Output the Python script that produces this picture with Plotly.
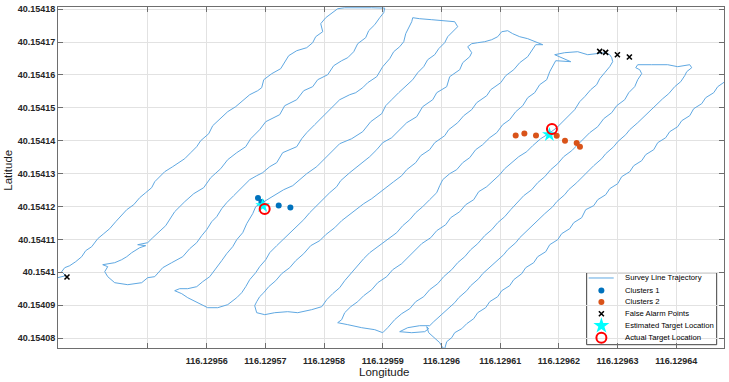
import math
import plotly.graph_objects as go

# ---------------- data (micro-degree offsets from the base coordinates) ----------------
LON_BASE = 116.1295
LAT_BASE = 40.154
UDEG = 1e-6

TRAJECTORY_UDEG = [
    # line 1 (up)
    (33.26,97.75),(34.62,98.36),(35.47,98.67),(35.98,98.97),(35.30,100.19),(35.81,101.40),(36.67,102.01),
    (37.69,103.23),(38.71,104.74),(39.39,106.57),(40.41,107.78),(41.44,110.22),(42.46,111.74),(43.48,113.26),
    (44.50,115.38),(45.35,116.90),(46.38,119.03),(47.57,120.55),(48.59,122.68),(49.61,124.20),(50.63,125.72),
    (51.15,127.54),(52.00,129.06),(52.85,130.58),(54.21,132.10),(55.58,133.62),(56.26,134.53),(57.28,136.36),
    (58.30,138.18),(58.98,140.00),(60.35,142.13),(61.03,144.56),(62.22,146.69),(63.58,148.82),(64.94,150.34),
    (66.14,152.16),(67.33,153.98),(68.69,155.20),(69.37,156.11),(69.72,158.54),(71.08,160.37),(72.61,161.89),
    (73.29,164.02),(73.97,165.84),(75.34,167.36),(77.04,168.27),(78.06,169.79),(78.57,171.61),(79.77,173.13),
    (79.43,175.57),(80.28,177.39),(81.47,178.91),(82.32,180.12),(83.51,180.40),(85.73,180.50),(88.11,180.40),
    (90.33,180.30),
    # line 2 (down)
    (90.16,178.91),(89.48,177.39),(88.63,175.26),(87.60,173.44),(87.09,171.31),(85.73,169.49),(85.05,167.05),
    (84.03,165.23),(83.00,164.32),(81.64,162.80),(80.62,160.06),(78.91,158.54),(78.06,156.42),(76.53,155.20),
    (75.34,152.46),(73.29,150.64),(72.44,147.91),(70.06,145.78),(69.03,143.35),(67.50,140.61),(66.65,138.18),
    (65.12,136.36),(63.58,134.23),(62.39,131.49),(60.69,128.76),(59.49,125.72),(57.79,123.89),(56.26,121.46),
    (54.55,118.42),(53.02,114.17),(52.00,112.34),(50.81,110.52),(49.95,109.00),(48.25,108.39),(49.61,108.09),
    (48.59,107.48),(47.23,105.96),(46.38,104.74),(45.52,103.83),(44.33,102.92),(42.29,102.31),
    (43.14,101.71),(42.63,100.19),(43.14,98.67),(44.33,96.84),(46.55,96.23),(48.93,96.84),(49.95,98.36),(51.15,98.67),
    # line 3 (up)
    (52.51,101.40),(54.04,102.92),(55.92,104.74),(57.11,107.18),(58.30,109.00),(59.15,111.13),(60.00,112.95),
    (60.86,115.38),(61.71,116.90),(62.56,119.33),(63.41,121.16),(64.60,123.29),(65.63,125.11),(66.31,126.63),
    (67.33,128.15),(68.52,129.36),(69.54,130.28),(70.74,132.10),(71.93,133.32),(72.95,136.36),(74.14,137.27),
    (75.34,138.18),(76.19,140.61),(77.04,142.43),(78.40,144.87),(79.77,147.30),(81.30,150.03),(82.66,152.46),
    (84.37,153.98),(85.39,154.59),(86.58,156.11),(87.43,157.63),(88.97,159.46),(89.99,162.50),(91.18,164.93),
    (91.86,167.05),(92.88,168.57),(93.57,170.09),(93.91,172.53),(94.42,174.35),(94.93,176.17),(95.10,177.39),
    (96.29,177.08),(98.34,176.78),(100.55,176.48),(102.25,176.17),(102.76,174.65),
    # line 4 (down)
    (101.91,173.13),(101.06,171.61),(100.55,169.79),(99.53,167.97),(98.85,166.14),(97.65,164.62),(96.97,162.50),
    (95.95,160.67),(95.10,158.54),(93.74,156.42),(92.71,154.59),(91.52,152.46),(90.50,150.64),(89.82,148.21),
    (87.94,145.78),(86.58,142.74),(84.71,140.61),(82.66,139.09),(81.13,136.36),(79.94,134.23),(78.74,132.10),
    (77.04,129.97),(75.85,128.15),(74.66,126.33),(73.12,125.11),(71.76,123.59),(70.40,122.07),(69.37,121.16),
    (68.35,119.94),(67.84,117.81),(66.82,114.78),(66.14,112.04),(65.12,109.91),(64.43,107.78),(63.41,105.66),
    (62.56,103.53),(61.54,101.10),(60.52,98.67),(59.32,97.15),(58.30,95.63),(56.77,95.02),(55.40,95.02),(54.55,94.41),
    (55.75,93.50),(56.77,92.28),(58.47,90.76),(60.17,89.24),(61.88,89.24),(63.58,90.16),(65.12,92.28),(65.97,93.80),
    # line 5 (up)
    (66.65,95.63),(67.33,97.75),(68.35,99.88),(69.03,101.71),(70.06,103.83),(70.74,105.96),(71.93,108.09),
    (72.95,109.91),(74.14,112.04),(75.34,113.86),(76.53,115.99),(77.55,118.12),(78.74,120.25),(79.77,122.07),
    (80.96,124.20),(82.15,126.02),(82.83,127.85),(84.37,130.28),(85.39,131.80),(86.58,133.32),(87.77,135.14),
    (88.97,137.27),(89.99,139.40),(91.52,140.91),(92.88,143.35),(94.08,145.47),(95.78,147.30),(96.80,150.34),
    (98.51,152.46),(99.19,154.59),(100.89,156.42),(101.40,159.46),(103.11,161.58),(103.62,163.71),(104.81,165.53),
    (105.15,166.75),(104.47,168.57),
    (105.15,169.49),(106.17,169.79),(107.36,170.09),(108.56,170.70),(109.58,171.61),(110.26,173.13),(111.28,173.44),
    (112.13,172.53),(113.33,171.61),(114.69,171.01),(115.88,170.09),(117.25,169.18),(116.05,169.18),
    # line 6 (down)
    (115.54,167.66),(114.69,165.53),(113.33,163.71),(112.31,161.58),(110.94,159.76),(110.09,157.63),(108.39,155.50),
    (107.71,153.68),(106.00,151.55),(105.15,149.43),(103.79,147.60),(102.76,145.47),(101.23,143.35),(100.55,141.52),
    (98.85,139.40),(97.99,137.27),(96.46,135.44),(95.61,133.32),(94.08,131.19),(93.22,129.36),(91.86,127.54),
    (90.50,125.72),(89.14,123.89),(88.11,122.37),(86.75,120.85),(85.39,119.03),(84.20,117.21),(83.00,115.69),
    (81.81,113.56),(80.28,111.43),(79.26,109.61),(77.72,108.09),(76.53,105.66),(75.17,103.53),(74.14,101.40),
    (72.78,99.58),(71.76,97.45),(70.57,95.63),(69.72,93.80),(69.03,92.59),
    (68.52,91.07),(68.18,89.85),(68.52,87.72),(69.89,87.12),(71.59,87.72),(73.80,88.03),(75.51,87.72),(77.89,88.64),(79.60,89.55),
    # line 7 (up)
    (80.45,91.67),(81.47,93.50),(82.66,95.32),(83.51,97.45),(84.54,99.58),(85.56,102.01),(86.75,104.14),
    (87.77,105.96),(88.97,107.48),(89.99,109.00),(91.18,110.52),(92.37,112.04),(93.40,114.17),(94.59,115.99),
    (95.61,118.12),(96.80,119.94),(97.99,122.07),(99.19,124.20),(99.70,126.33),(100.21,128.15),(101.40,129.97),
    (102.59,131.19),(103.62,133.32),(104.81,134.84),(105.83,137.27),(107.02,138.79),(108.22,140.91),(109.41,142.43),
    (110.43,144.87),(111.62,146.39),(112.65,148.82),(113.84,150.64),(114.69,153.07),(115.88,154.59),(116.73,157.02),
    (117.93,158.54),(118.44,160.98),(118.95,162.80),(119.46,164.32),(122.02,164.02),(120.31,165.23),(119.29,166.14),
    (120.99,166.75),(123.21,167.05),(124.91,166.14),(126.62,166.45),(127.81,166.75),(128.66,166.14),(129.00,165.23),
    # line 8 (down)
    (129.17,164.02),(128.66,162.50),(127.81,160.67),(126.96,158.85),(126.44,157.02),(125.42,155.50),(124.40,153.38),
    (123.55,151.86),(122.70,149.43),(121.85,147.91),(120.65,145.78),(119.63,143.95),(118.27,142.13),(116.90,140.61),
    (115.54,138.48),(114.52,136.66),(113.16,135.14),(111.96,133.32),(110.77,131.49),(109.92,129.67),(108.73,127.54),
    (107.71,126.02),(106.34,124.50),(105.49,122.07),(104.13,120.55),(103.11,118.42),(101.57,116.60),(100.72,114.47),
    (99.19,112.65),(98.17,110.52),(96.63,108.70),(95.61,106.87),(94.25,104.74),(93.22,102.62),(91.69,100.79),
    (90.67,98.67),(89.14,96.84),(88.11,94.71),(86.75,92.89),(85.73,91.07),(84.54,89.55),(83.51,87.72),(83.00,85.60),
    (82.32,84.68),(84.03,84.08),(86.41,83.16),(88.63,82.56),(89.99,81.64),(90.84,83.16),(92.03,85.60),
    # line 9 (up)
    (93.22,87.42),(94.59,88.94),(95.61,91.07),(96.97,92.59),(97.99,94.71),(99.36,96.54),(100.38,98.67),
    (101.74,100.79),(102.76,102.92),(103.96,104.74),(104.98,106.87),(106.17,108.70),(107.36,111.13),(108.56,112.95),
    (109.58,115.08),(110.77,116.90),(111.79,119.03),(112.99,121.16),(114.01,123.29),(115.37,125.11),(116.39,127.24),
    (117.59,129.06),(118.61,131.19),(119.80,133.01),(120.82,135.14),(122.19,136.96),(123.04,138.48),(124.23,140.31),
    (125.25,142.43),(126.62,144.26),(127.64,146.69),(129.00,148.51),(129.85,150.64),(131.22,152.46),(131.90,154.59),
    (132.92,156.42),(133.43,158.54),(134.11,160.37),(133.77,161.58),(133.09,162.19),
    (133.43,163.10),(135.81,163.10),(138.54,163.10),(140.24,162.50),(142.29,163.10),(142.63,162.19),(141.78,160.98),
    # line 10 (down)
    (141.44,159.76),(140.76,157.94),(139.73,156.42),(138.71,154.29),(137.69,152.77),(136.50,150.64),(135.64,149.12),
    (134.28,146.99),(133.43,145.47),(132.07,143.35),(131.39,141.83),(130.02,139.70),(129.34,138.18),(127.98,136.05),
    (127.30,134.53),(125.93,132.40),(125.08,130.88),(123.72,128.76),(123.04,127.24),(121.67,125.11),(120.99,123.59),
    (119.63,121.46),(118.95,119.94),(117.59,117.81),(116.73,116.29),(115.37,114.17),(114.69,112.65),(113.33,110.52),
    (112.65,109.00),(111.28,106.87),(110.60,105.35),(109.24,103.23),(108.39,101.71),(107.02,99.58),(106.34,98.06),
    (104.98,95.93),(104.30,94.41),(102.94,92.28),(102.25,90.76),(100.89,88.64),(100.04,87.12),(98.68,84.99),(97.99,83.77),
    (96.29,83.77),(94.25,83.16),(92.88,81.95),(94.93,81.64),(97.14,81.95),(97.82,82.86),(97.48,83.47),(97.82,81.64),
    (98.85,80.12),(99.70,78.61),(100.21,77.09),(100.55,76.78),
    # line 11 (up)
    (100.89,78.91),(101.74,80.12),(102.25,81.64),(103.45,82.86),(104.30,84.38),(105.49,85.90),(106.17,87.72),
    (107.53,89.24),(108.22,91.07),(109.58,92.59),(110.26,94.41),(111.62,95.93),(112.31,97.75),(113.67,99.58),
    (114.35,101.40),(115.71,102.92),(116.39,104.74),(117.76,106.26),(118.44,108.39),(119.80,109.91),(120.48,111.74),
    (121.85,113.26),(122.53,115.08),(123.89,116.60),(124.57,119.03),(125.93,120.25),(126.62,122.07),(127.98,123.59),
    (128.66,125.41),(130.02,126.93),(130.70,129.06),(132.07,130.58),(132.75,132.40),(134.11,133.92),(134.79,135.75),
    (136.16,137.27),(136.84,139.40),(138.20,140.91),(138.88,142.74),(140.24,144.26),(140.93,146.08),(142.29,147.60),
    (142.97,149.73),(144.33,151.25),(145.01,153.07),(146.38,154.59),(147.06,156.42),(148.08,157.63),(148.76,158.54),
]

CLUSTER1_LON_U = [68.74, 69.32, 72.27, 74.26]
CLUSTER1_LAT_U = [122.59, 121.37, 120.34, 119.73]
CLUSTER2_LON_U = [112.64, 114.12, 116.10, 119.63, 121.04, 123.03, 123.59]
CLUSTER2_LAT_U = [141.61, 142.22, 141.61, 141.52, 140.00, 139.30, 138.18]
FALSE_ALARM_LON_U = [36.20, 126.95, 127.97, 129.97, 132.01]
FALSE_ALARM_LAT_U = [98.57, 167.15, 166.84, 166.14, 165.44]
ESTIMATED_LON_U = [69.54, 118.38]
ESTIMATED_LAT_U = [120.25, 141.83]
ACTUAL_LON_U = [69.88, 118.82]
ACTUAL_LAT_U = [119.24, 143.56]

X_TICKS_U = [50, 60, 70, 80, 90, 100, 110, 120, 130, 140]
X_TICK_TEXT = ["", "116.12956", "116.12957", "116.12958", "116.12959", "116.1296",
               "116.12961", "116.12962", "116.12963", "116.12964"]
Y_TICKS_U = [80, 90, 100, 110, 120, 130, 140, 150, 160, 170, 180]
Y_TICK_TEXT = ["40.15408", "40.15409", "40.1541", "40.15411", "40.15412", "40.15413",
               "40.15414", "40.15415", "40.15416", "40.15417", "40.15418"]
X_RANGE_U = [34.67, 148.13]
Y_RANGE_U = [76.99, 180.64]

LEGEND_LABELS = ["Survey Line Trajectory", "Clusters 1", "Clusters 2", "False Alarm Points",
                 "Estimated Target Location", "Actual Target Location"]


def lon(vals):
    return [LON_BASE + v * UDEG for v in vals]


def lat(vals):
    return [LAT_BASE + v * UDEG for v in vals]


# ---------------- styles ----------------
TRAJ_COLOR = "#5FA8E2"
C1_COLOR = "#0072BD"
C2_COLOR = "#D95319"
FONT = "Liberation Sans, Arial, sans-serif"
AXIS_GRAY = "#6e6e6e"

fig = go.Figure()

traj_lon = lon([p[0] for p in TRAJECTORY_UDEG])
traj_lat = lat([p[1] for p in TRAJECTORY_UDEG])
fig.add_trace(go.Scatter(x=traj_lon, y=traj_lat, mode="lines",
                         line=dict(color=TRAJ_COLOR, width=1), name=LEGEND_LABELS[0]))
fig.add_trace(go.Scatter(x=lon(CLUSTER1_LON_U), y=lat(CLUSTER1_LAT_U), mode="markers",
                         marker=dict(color=C1_COLOR, size=6, line=dict(width=0)), name=LEGEND_LABELS[1]))
fig.add_trace(go.Scatter(x=lon(CLUSTER2_LON_U), y=lat(CLUSTER2_LAT_U), mode="markers",
                         marker=dict(color=C2_COLOR, size=6, line=dict(width=0)), name=LEGEND_LABELS[2]))
fig.add_trace(go.Scatter(x=lon(FALSE_ALARM_LON_U), y=lat(FALSE_ALARM_LAT_U), mode="markers",
                         marker=dict(symbol="x-thin", color="black", size=5,
                                     line=dict(color="black", width=1.6)), name=LEGEND_LABELS[3]))
fig.add_trace(go.Scatter(x=lon(ESTIMATED_LON_U), y=lat(ESTIMATED_LAT_U), mode="markers",
                         marker=dict(symbol="star", color="#00FFFF", size=11, line=dict(width=0)),
                         name=LEGEND_LABELS[4]))
fig.add_trace(go.Scatter(x=lon(ACTUAL_LON_U), y=lat(ACTUAL_LAT_U), mode="markers",
                         marker=dict(symbol="circle-open", color="#FF0000", size=10,
                                     line=dict(color="#FF0000", width=2)), name=LEGEND_LABELS[5]))

# ---------------- manual legend (layout, in plot-area fractions) ----------------
LG_BOX = (0.7938, 0.9890, 0.0097, 0.2208)
LG_ROWS = [0.2053, 0.1689, 0.1349, 0.1006, 0.0654, 0.0302]
LG_SYM_X = 0.8159
LG_LINE_X = (0.7968, 0.8344)
LG_TEXT_X = 0.8483

fig.add_shape(type="rect", xref="paper", yref="paper", x0=LG_BOX[0], x1=LG_BOX[1],
              y0=LG_BOX[2], y1=LG_BOX[3], fillcolor="white",
              line=dict(color="#404040", width=1), layer="between")

leg = dict(xaxis="x2", yaxis="y2", hoverinfo="skip", showlegend=False)
fig.add_trace(go.Scatter(x=list(LG_LINE_X), y=[LG_ROWS[0]] * 2, mode="lines",
                         line=dict(color=TRAJ_COLOR, width=1), **leg))
fig.add_trace(go.Scatter(x=[LG_SYM_X], y=[LG_ROWS[1]], mode="markers",
                         marker=dict(color=C1_COLOR, size=6), **leg))
fig.add_trace(go.Scatter(x=[LG_SYM_X], y=[LG_ROWS[2]], mode="markers",
                         marker=dict(color=C2_COLOR, size=6), **leg))
fig.add_trace(go.Scatter(x=[LG_SYM_X], y=[LG_ROWS[3]], mode="markers",
                         marker=dict(symbol="x-thin", size=5, color="black",
                                     line=dict(color="black", width=1.6)), **leg))
fig.add_trace(go.Scatter(x=[LG_SYM_X], y=[LG_ROWS[4]], mode="markers",
                         marker=dict(symbol="star", size=12, color="#00FFFF"), **leg))
fig.add_trace(go.Scatter(x=[LG_SYM_X], y=[LG_ROWS[5]], mode="markers",
                         marker=dict(symbol="circle-open", size=10, color="#FF0000",
                                     line=dict(color="#FF0000", width=2)), **leg))

annotations = []
for label, yy in zip(LEGEND_LABELS, LG_ROWS):
    annotations.append(dict(text=label, xref="paper", yref="paper", x=LG_TEXT_X, y=yy,
                            xanchor="left", yanchor="middle", showarrow=False,
                            font=dict(family=FONT, size=7.7, color="#000000")))
annotations.append(dict(text="Longitude", xref="paper", yref="paper", x=0.49, y=-0.0695,
                        xanchor="center", yanchor="middle", showarrow=False,
                        font=dict(family=FONT, size=11.5, color="#1a1a1a")))
annotations.append(dict(text="Latitude", xref="paper", yref="paper", x=-0.075, y=0.52,
                        xanchor="center", yanchor="middle", showarrow=False, textangle=-90,
                        font=dict(family=FONT, size=11.5, color="#1a1a1a")))

axis_common = dict(showgrid=True, gridcolor="#e2e2e2", gridwidth=1, zeroline=False,
                   showline=True, linecolor=AXIS_GRAY, linewidth=1, mirror="allticks",
                   ticks="inside", ticklen=5, tickwidth=1, tickcolor=AXIS_GRAY,
                   tickfont=dict(family=FONT, size=9, color="#262626", weight="bold"),
                   automargin=False, tickmode="array")

fig.update_layout(
    width=729, height=382,
    margin=dict(l=58, r=5, t=7, b=34, pad=0),
    paper_bgcolor="white", plot_bgcolor="white",
    showlegend=False,
    xaxis=dict(range=lon(X_RANGE_U), tickvals=lon(X_TICKS_U), ticktext=X_TICK_TEXT,
               ticklabelstandoff=4, **axis_common),
    yaxis=dict(range=lat(Y_RANGE_U), tickvals=lat(Y_TICKS_U), ticktext=Y_TICK_TEXT, **axis_common),
    xaxis2=dict(overlaying="x", anchor="y2", range=[0, 1], visible=False, fixedrange=True),
    yaxis2=dict(overlaying="y", anchor="x2", range=[0, 1], visible=False, fixedrange=True),
    annotations=annotations,
)

fig.write_html("out.html")
